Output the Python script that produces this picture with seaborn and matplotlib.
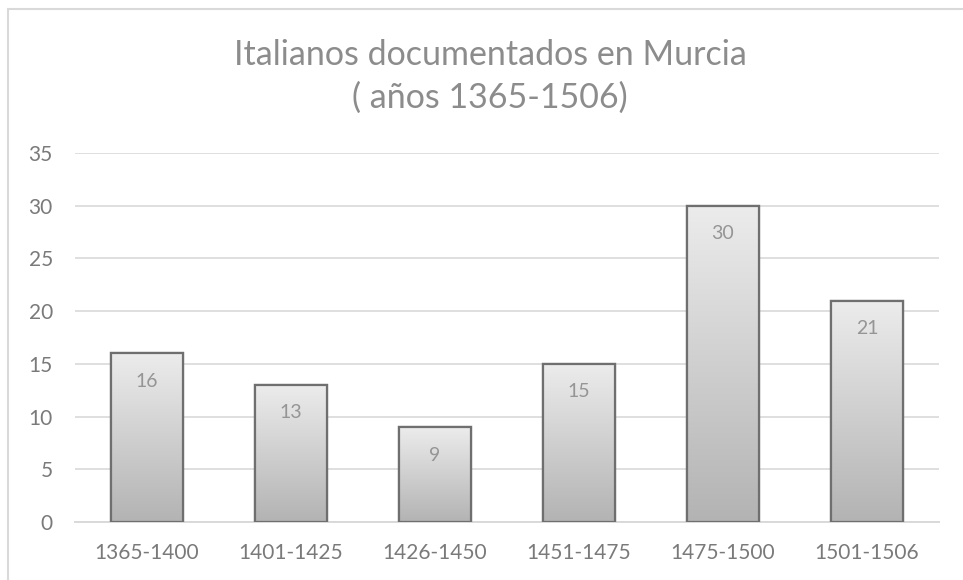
import matplotlib
matplotlib.use("Agg")
import matplotlib.pyplot as plt
import seaborn as sns
import numpy as np
import pandas as pd
from matplotlib.patches import Rectangle

categories = ["1365-1400", "1401-1425", "1426-1450", "1451-1475", "1475-1500", "1501-1506"]
values = [16, 13, 9, 15, 30, 21]
yticks = [0, 5, 10, 15, 20, 25, 30, 35]
title_lines = ["Italianos documentados en Murcia", "( años 1365-1506)"]

sns.set_theme(style="white")
plt.rcParams['font.family'] = ['Lato', 'DejaVu Sans']

df = pd.DataFrame({"periodo": categories, "n": values})

fig = plt.figure(figsize=(9.63, 5.8), dpi=100)
ax = fig.add_axes([75/963, 1-522/580, (939-75)/963, (522-153)/580])

sns.barplot(data=df, x="periodo", y="n", ax=ax, width=0.5, color="#cccccc",
            edgecolor="#6f6f6f", linewidth=1.6, zorder=3)

# gradient fill for each bar
grad = np.linspace(0, 1, 256).reshape(-1, 1)
cmap = matplotlib.colors.LinearSegmentedColormap.from_list("g", ["#b3b3b3", "#ececec"])
for p in list(ax.patches):
    x0, y0 = p.get_x(), p.get_y()
    w, h = p.get_width(), p.get_height()
    im = ax.imshow(grad, extent=[x0, x0 + w, y0, y0 + h], origin="lower",
                   cmap=cmap, aspect="auto", zorder=3.5, interpolation="bicubic")
    im.set_clip_path(p)
    edge = Rectangle((x0, y0), w, h, fill=False, edgecolor="#6f6f6f", linewidth=1.6, zorder=4)
    ax.add_patch(edge)

for i, v in enumerate(values):
    ax.annotate(str(v), (i, v), xytext=(0, -28), textcoords="offset pixels",
                ha="center", va="center", fontsize=14, color="#959595", zorder=5)

ax.set_xlim(-0.5, len(categories) - 0.5)
ax.set_ylim(0, 35)
ax.set_yticks(yticks)
ax.set_yticklabels([str(t) for t in yticks])
ax.yaxis.grid(True, color="#d9d9d9", linewidth=1.2, zorder=0)
ax.set_axisbelow(True)
for s in ["top", "right", "left"]:
    ax.spines[s].set_visible(False)
ax.spines["bottom"].set_color("#d9d9d9")
ax.spines["bottom"].set_linewidth(1.4)
ax.tick_params(axis="both", length=0, labelsize=15, labelcolor="#7a7a7a")
ax.tick_params(axis="y", pad=16)
ax.tick_params(axis="x", pad=15)
ax.set_xlabel("")
ax.set_ylabel("")

fig.text(490/963, 1-65/580, title_lines[0], ha="center", va="baseline", fontsize=24.5,
         color="#8c8c8c")
fig.text(490/963, 1-108/580, title_lines[1], ha="center", va="baseline", fontsize=24.5,
         color="#8c8c8c")

fig.patches.append(Rectangle((8/963, -0.05), 1.1, 1-9/580+0.05, transform=fig.transFigure,
                             fill=False, edgecolor="#d9d9d9", linewidth=1.5, zorder=0))

fig.savefig("out.png", dpi=100, facecolor="white")
